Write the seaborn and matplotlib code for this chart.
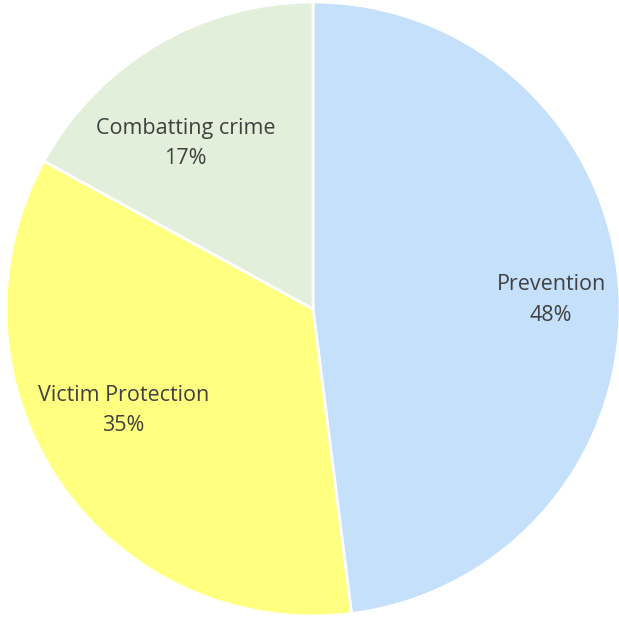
import numpy as np
import matplotlib
matplotlib.use("Agg")
import matplotlib.pyplot as plt
import seaborn as sns

categories = ["Prevention", "Victim Protection", "Combatting crime"]
values = [48, 35, 17]
colors = ["#C5E0FB", "#FFFF80", "#E2EFDA"]

sns.set_style("white")
plt.rcParams["font.family"] = ["Open Sans", "DejaVu Sans"]

W, H = 619, 618
fig = plt.figure(figsize=(W / 100, H / 100), dpi=100)
ax = fig.add_axes([0, 0, 1, 1])

R = 307.0
cx, cy = 313.0, 309.0
wedges, _ = ax.pie(values, colors=colors, startangle=90, counterclock=False,
                   radius=1.0, wedgeprops=dict(edgecolor="white", linewidth=2))

# label placement (fraction of radius, angle offset in degrees)
label_r = [0.776, 0.70, 0.68]
label_da = [-1.5, -6.0, 7.0]
total = sum(values)
cum = 0
for i, (cat, v) in enumerate(zip(categories, values)):
    mid = 90 - 360 * (cum + v / 2) / total
    cum += v
    a = np.deg2rad(mid + label_da[i])
    x, y = label_r[i] * np.cos(a), label_r[i] * np.sin(a)
    ax.text(x, y, f"{cat}\n{round(100 * v / total)}%", ha="center", va="center",
            fontsize=15.5, color="#404040", linespacing=1.6)

ax.set_xlim(-cx / R, (W - cx) / R)
ax.set_ylim(-(H - cy) / R, cy / R)
ax.set_aspect("auto")
ax.axis("off")
fig.savefig("out.png", dpi=100)
